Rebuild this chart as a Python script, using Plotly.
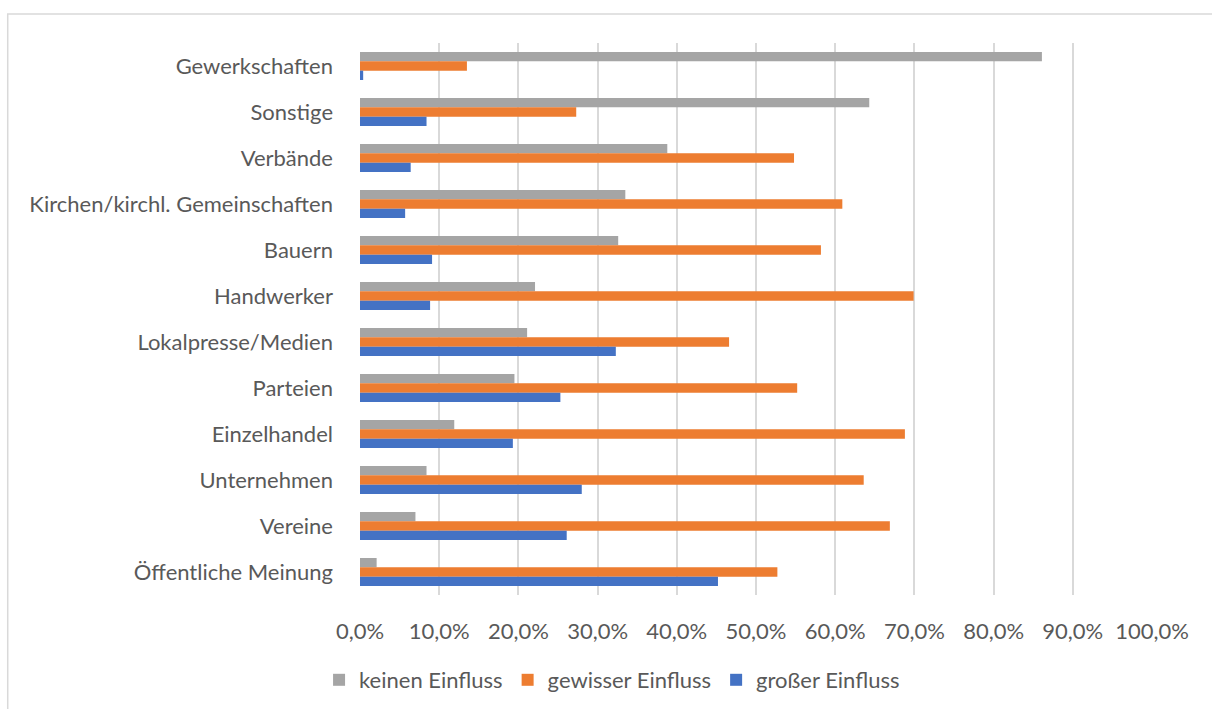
import plotly.graph_objects as go

categories = ["Gewerkschaften", "Sonstige", "Verbände", "Kirchen/kirchl. Gemeinschaften",
              "Bauern", "Handwerker", "Lokalpresse/Medien", "Parteien", "Einzelhandel",
              "Unternehmen", "Vereine", "Öffentliche Meinung"]
keinen = [86.1, 64.3, 38.8, 33.5, 32.6, 22.1, 21.1, 19.5, 11.9, 8.4, 7.0, 2.1]
gewisser = [13.5, 27.3, 54.8, 60.9, 58.2, 69.9, 46.6, 55.2, 68.8, 63.6, 66.9, 52.7]
grosser = [0.4, 8.4, 6.4, 5.7, 9.1, 8.85, 32.3, 25.3, 19.3, 28.0, 26.1, 45.2]
tick_vals = [0, 10, 20, 30, 40, 50, 60, 70, 80, 90, 100]
tick_text = ["0,0%", "10,0%", "20,0%", "30,0%", "40,0%", "50,0%", "60,0%", "70,0%",
             "80,0%", "90,0%", "100,0%"]

W, H = 1212, 709
L, R, T, B = 359.5, 60, 43, 114

FONT = "Lato, Calibri, sans-serif"
TXT = "#595959"
FS = 22

fig = go.Figure()
fig.add_trace(go.Bar(y=categories, x=keinen, orientation="h", name="keinen Einfluss",
                     marker=dict(color="#A5A5A5", line=dict(width=0))))
fig.add_trace(go.Bar(y=categories, x=gewisser, orientation="h", name="gewisser Einfluss",
                     marker=dict(color="#ED7D31", line=dict(width=0))))
fig.add_trace(go.Bar(y=categories, x=grosser, orientation="h", name="großer Einfluss",
                     marker=dict(color="#4472C4", line=dict(width=0))))

pw = W - L - R
ph = H - T - B
fig.add_shape(type="rect", xref="paper", yref="paper",
              x0=(7 - L) / pw, x1=(W + 20 - L) / pw,
              y0=-(H + 20 - T - ph) / ph, y1=1 + (T - 14) / ph,
              line=dict(color="#D9D9D9", width=1.5), fillcolor="rgba(0,0,0,0)", layer="below")

fig.update_layout(
    width=W, height=H,
    margin=dict(l=L, r=R, t=T, b=B, pad=0),
    paper_bgcolor="white", plot_bgcolor="white",
    barmode="group", bargap=0.39, bargroupgap=0,
    font=dict(family=FONT, size=FS, color=TXT),
    showlegend=True,
    legend=dict(orientation="h", xref="container", yref="container",
                x=0.505, xanchor="center", y=1 - 680 / H, yanchor="middle",
                font=dict(family=FONT, size=FS, color=TXT), itemwidth=30,
                traceorder="normal"),
    xaxis=dict(range=[0, 100], tickvals=tick_vals, ticktext=tick_text,
               showgrid=True, gridcolor="#D9D9D9", gridwidth=1.5,
               zeroline=False, showline=False, ticks="", ticklabelstandoff=21,
               tickfont=dict(family=FONT, size=FS, color=TXT), fixedrange=True),
    yaxis=dict(categoryorder="array", categoryarray=categories, autorange="reversed",
               showgrid=False, zeroline=False, showline=False, ticks="",
               ticklabelstandoff=26,
               tickfont=dict(family=FONT, size=FS, color=TXT), fixedrange=True),
)

fig.write_html("out.html")
